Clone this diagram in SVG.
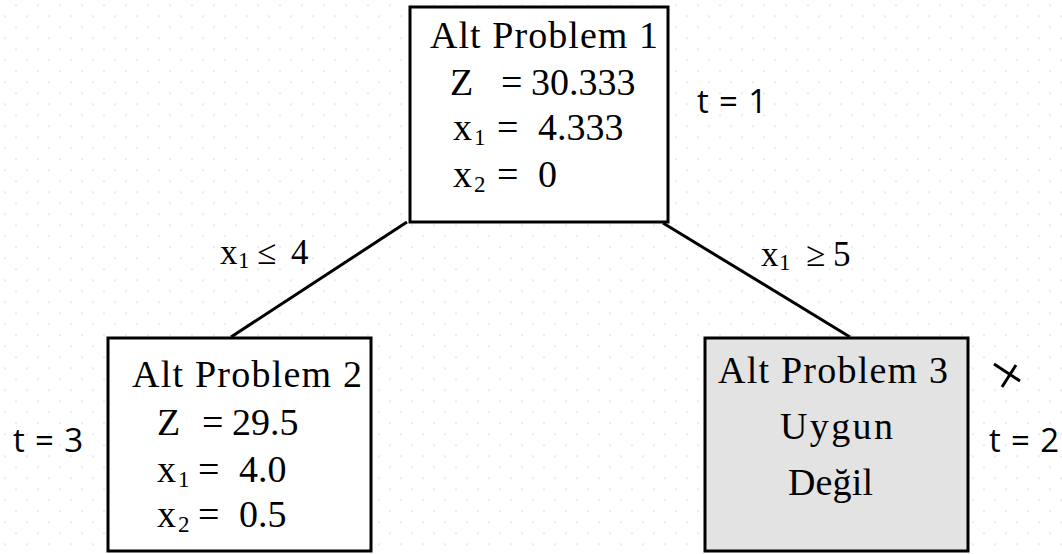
<svg xmlns="http://www.w3.org/2000/svg" width="1062" height="554" viewBox="0 0 1062 554">
  <defs>
    <!-- faint dotted background grid -->
    <pattern id="dots" x="0" y="0" width="22" height="22" patternUnits="userSpaceOnUse">
      <rect x="15" y="4.3" width="2" height="2" fill="#ebebeb"/>
      <rect x="4" y="15.3" width="2" height="2" fill="#ebebeb"/>
    </pattern>
    <style>
      .box { stroke: #000; stroke-width: 3; }
      .plain { fill: #fff; }
      .infeasible { fill: #e3e3e3; }
      .edge { stroke: #000; stroke-width: 3; fill: none; }
      .serif { font-family: "Liberation Serif", "DejaVu Serif", serif; fill: #000; }
      .big { font-size: 38px; }
      .lbl { font-size: 35px; }
      .sub { font-size: 23px; }
      .step { font-family: "Open Sans", "Liberation Sans", sans-serif; font-size: 33px; fill: #000; }
    </style>
  </defs>

  <rect width="1062" height="554" fill="#fff"/>
  <rect width="1062" height="554" fill="url(#dots)"/>

  <!-- branches -->
  <g id="connectors">
    <line class="edge" x1="407" y1="222" x2="231" y2="337"/>
    <line class="edge" x1="663" y1="223" x2="850" y2="337"/>
    <text class="serif lbl" y="264"><tspan x="220">x</tspan><tspan class="sub" x="238" dy="4">1</tspan><tspan x="257" dy="-4">≤</tspan><tspan x="291">4</tspan></text>
    <text class="serif lbl" y="266"><tspan x="761">x</tspan><tspan class="sub" x="779" dy="4">1</tspan><tspan x="806" dy="-4">≥</tspan><tspan x="833">5</tspan></text>
  </g>

  <!-- root subproblem -->
  <g id="node-alt-problem-1">
    <rect class="box plain" x="410" y="7" width="258" height="215"/>
    <text class="serif big" x="430" y="48" textLength="228" lengthAdjust="spacing">Alt Problem 1</text>
    <text class="serif big" y="95"><tspan x="450">Z</tspan><tspan x="501">=</tspan><tspan x="531">30.333</tspan></text>
    <text class="serif big" y="140"><tspan x="453">x</tspan><tspan class="sub" x="474" dy="5">1</tspan><tspan x="497" dy="-5">=</tspan><tspan x="538">4.333</tspan></text>
    <text class="serif big" y="187"><tspan x="453">x</tspan><tspan class="sub" x="474" dy="5">2</tspan><tspan x="497" dy="-5">=</tspan><tspan x="538">0</tspan></text>
  </g>

  <!-- left child: x1 <= 4 -->
  <g id="node-alt-problem-2">
    <rect class="box plain" x="108" y="338" width="263" height="213"/>
    <text class="serif big" x="132" y="387" textLength="230" lengthAdjust="spacing">Alt Problem 2</text>
    <text class="serif big" y="435"><tspan x="157">Z</tspan><tspan x="202">=</tspan><tspan x="232">29.5</tspan></text>
    <text class="serif big" y="482"><tspan x="157">x</tspan><tspan class="sub" x="178" dy="5">1</tspan><tspan x="198" dy="-5">=</tspan><tspan x="239">4.0</tspan></text>
    <text class="serif big" y="527"><tspan x="157">x</tspan><tspan class="sub" x="178" dy="5">2</tspan><tspan x="198" dy="-5">=</tspan><tspan x="239">0.5</tspan></text>
  </g>

  <!-- right child: x1 >= 5, infeasible -->
  <g id="node-alt-problem-3">
    <rect class="box infeasible" x="705" y="338" width="263" height="213"/>
    <text class="serif big" x="718" y="383" textLength="230" lengthAdjust="spacing">Alt Problem 3</text>
    <text class="serif big" x="780" y="439" textLength="113" lengthAdjust="spacing">Uygun</text>
    <text class="serif big" x="788" y="495" textLength="85" lengthAdjust="spacing">Değil</text>
  </g>

  <!-- pruned marker -->
  <g id="prune-mark">
    <line class="edge" x1="994" y1="364" x2="1020" y2="381"/>
    <line class="edge" x1="1002" y1="387" x2="1016" y2="365"/>
  </g>

  <!-- iteration order -->
  <g id="steps">
    <text class="step" x="697" y="113" textLength="70" lengthAdjust="spacing">t = 1</text>
    <text class="step" x="989" y="452" textLength="70" lengthAdjust="spacing">t = 2</text>
    <text class="step" x="13" y="452" textLength="70" lengthAdjust="spacing">t = 3</text>
  </g>
</svg>
